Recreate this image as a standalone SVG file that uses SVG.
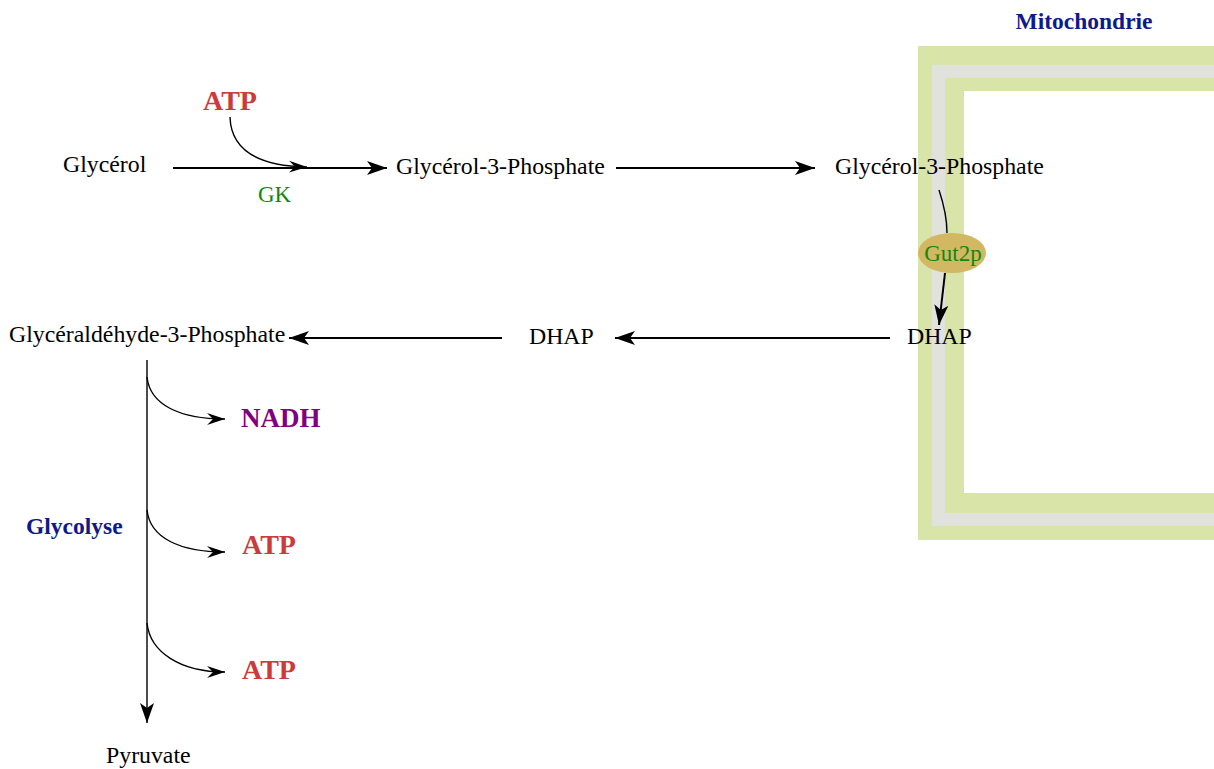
<svg xmlns="http://www.w3.org/2000/svg" width="1214" height="769" viewBox="0 0 1214 769">
<defs>
<style>
.t{font-family:"Liberation Serif","Times New Roman",serif;font-size:23.8px;fill:#000}
.b{font-family:"Liberation Serif","Times New Roman",serif;font-weight:bold}
.atp{font-size:28px;fill:#cc3b3b}
.nadh{font-size:27px;fill:#800080}
.blue{font-size:23.5px;fill:#0d1a8a}
.enz{font-family:"Liberation Serif","Times New Roman",serif;font-size:23px;fill:#118811}
.ln{fill:none;stroke:#000;stroke-width:2}
.thin{fill:none;stroke:#000;stroke-width:1.4}
</style>
<marker id="big" markerUnits="userSpaceOnUse" markerWidth="22" markerHeight="14" refX="20" refY="7" orient="auto"><path d="M0,0 L20,7 L0,14 L5,7 z" fill="#000"/></marker>
<marker id="sm" markerUnits="userSpaceOnUse" markerWidth="20" markerHeight="14" refX="18" refY="7" orient="auto"><path d="M0,1 L18,7 L0,13 L6,7 z" fill="#000"/></marker>
</defs>
<rect width="1214" height="769" fill="#fff"/>
<g id="mitochondrie">
<rect x="918" y="46" width="400" height="494" fill="#d9e4a9"/>
<rect x="932" y="65" width="400" height="461" fill="#e2e2dc"/>
<rect x="945" y="78" width="400" height="435" fill="#d9e4a9"/>
<rect x="964" y="91" width="400" height="402" fill="#fff"/>
<text class="b blue" x="1084" y="29" text-anchor="middle">Mitochondrie</text>
</g>
<g id="connectors">
<path class="ln" d="M173,168 L387,168" marker-end="url(#big)"/>
<path class="thin" d="M230,117 C231,150 258,166 307,167" marker-end="url(#sm)"/>
<path class="ln" d="M616,168 L815,168" marker-end="url(#big)"/>
<path class="thin" d="M939,190 C944,205 947,220 947,233"/>
<path class="ln" d="M945,273 L939,325" marker-end="url(#big)"/>
<path class="ln" d="M890,338 L615,338" marker-end="url(#big)"/>
<path class="ln" d="M502,338 L289,338" marker-end="url(#big)"/>
<path class="thin" d="M147,360 L147,723" marker-end="url(#big)"/>
<path class="thin" d="M147,377 C150,405 180,419 225,419" marker-end="url(#sm)"/>
<path class="thin" d="M147,510 C150,538 180,552 225,552" marker-end="url(#sm)"/>
<path class="thin" d="M147,623 C150,652 180,672 225,672" marker-end="url(#sm)"/>
</g>
<g id="glycerol"><text class="t" x="63" y="172">Glycérol</text></g>
<g id="atp1"><text class="b atp" x="203" y="110">ATP</text></g>
<g id="gk"><text class="enz" x="258" y="202">GK</text></g>
<g id="g3p-cyto"><text class="t" x="396" y="174">Glycérol-3-Phosphate</text></g>
<g id="g3p-mito"><text class="t" x="835" y="174">Glycérol-3-Phosphate</text></g>
<g id="gut2p"><ellipse cx="952" cy="253" rx="34" ry="20" fill="#d2b862"/><text class="enz" x="953" y="261" text-anchor="middle">Gut2p</text></g>
<g id="dhap-mito"><text class="t" x="907" y="344">DHAP</text></g>
<g id="dhap-cyto"><text class="t" x="529" y="344">DHAP</text></g>
<g id="gap"><text class="t" x="9" y="342">Glycéraldéhyde-3-Phosphate</text></g>
<g id="nadh"><text class="b nadh" x="241" y="427">NADH</text></g>
<g id="glycolyse"><text class="b blue" x="26" y="534">Glycolyse</text></g>
<g id="atp2"><text class="b atp" x="242" y="554">ATP</text></g>
<g id="atp3"><text class="b atp" x="242" y="679">ATP</text></g>
<g id="pyruvate"><text class="t" x="106" y="763">Pyruvate</text></g>
</svg>
